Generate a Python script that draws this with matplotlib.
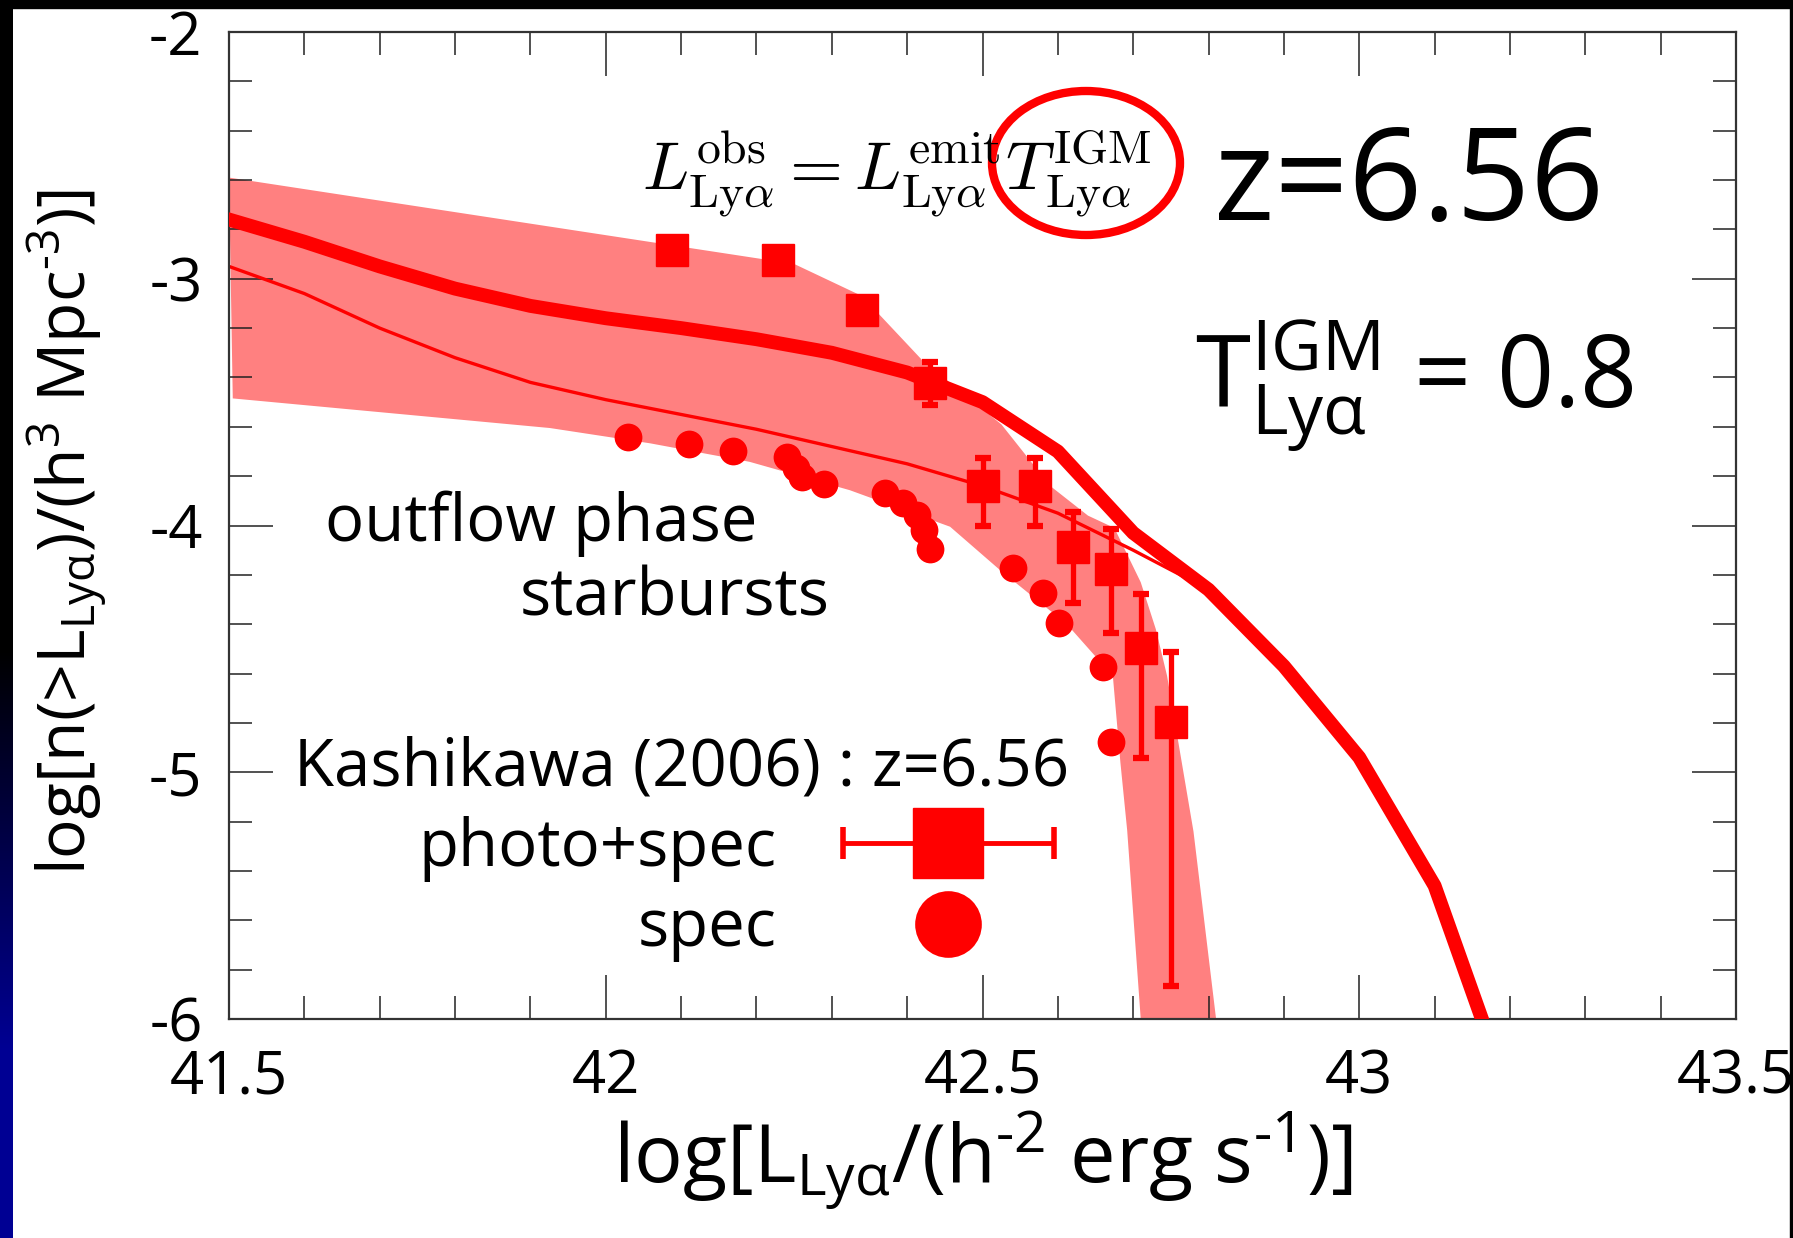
import numpy as np
import matplotlib
matplotlib.use('Agg')
import matplotlib.pyplot as plt
import matplotlib.ticker as mticker
from matplotlib.patches import Ellipse, Rectangle
from matplotlib.lines import Line2D
from matplotlib.container import ErrorbarContainer
from matplotlib.legend_handler import HandlerErrorbar

plt.rcParams['font.family'] = ['Open Sans', 'DejaVu Sans']
plt.rcParams['mathtext.fontset'] = 'custom'
plt.rcParams['mathtext.rm'] = 'Open Sans'
plt.rcParams['mathtext.it'] = 'Open Sans:italic'
plt.rcParams['mathtext.bf'] = 'Open Sans:bold'
plt.rcParams['axes.unicode_minus'] = False

# ---- model curves: cumulative LAE number density ----
logL_model = [41.5, 41.6, 41.7, 41.8, 41.9, 42.0, 42.1, 42.2, 42.3, 42.4,
              42.5, 42.6, 42.7, 42.8, 42.9, 43.0, 43.1, 43.2]
n_thick = [-2.76, -2.85, -2.95, -3.04, -3.11, -3.16, -3.20, -3.245, -3.30, -3.38,
           -3.50, -3.70, -4.03, -4.26, -4.57, -4.94, -5.46, -6.32]
logL_thin = [41.5, 41.6, 41.7, 41.8, 41.9, 42.0, 42.1, 42.2, 42.3, 42.4,
             42.5, 42.6, 42.7, 42.8]
n_thin = [-2.95, -3.06, -3.20, -3.32, -3.42, -3.49, -3.55, -3.61, -3.68, -3.75,
          -3.84, -3.95, -4.10, -4.26]

# shaded range of the model (outline, clockwise)
band_x = [41.5, 42.25, 42.34, 42.42, 42.525, 42.59, 42.64, 42.675, 42.71, 42.73,
          42.745, 42.78, 42.81, 42.71, 42.692, 42.683, 42.673, 42.612, 42.523,
          42.457, 42.324, 42.191, 42.059, 41.926, 41.505]
band_y = [-2.59, -2.94, -3.07, -3.33, -3.59, -3.84, -3.96, -4.01, -4.23, -4.42,
          -4.61, -5.24, -6.0, -6.0, -5.235, -4.96, -4.61, -4.40, -4.18,
          -4.005, -3.857, -3.742, -3.667, -3.605, -3.485]

# ---- Kashikawa (2006), z=6.56 ----
logL_ps = [42.088, 42.229, 42.340, 42.430, 42.500, 42.570, 42.620, 42.670, 42.710, 42.750]
n_ps = [-2.883, -2.924, -3.126, -3.424, -3.840, -3.840, -4.089, -4.178, -4.498, -4.798]
err_lo = [0.0, 0.0, 0.0, 0.088, 0.162, 0.162, 0.227, 0.259, 0.446, 1.068]
err_hi = [0.0, 0.0, 0.0, 0.088, 0.112, 0.112, 0.145, 0.162, 0.220, 0.286]

logL_sp = [42.030, 42.110, 42.169, 42.240, 42.253, 42.261, 42.290, 42.371, 42.395,
           42.413, 42.422, 42.430, 42.541, 42.580, 42.601, 42.660, 42.670]
n_sp = [-3.643, -3.670, -3.697, -3.721, -3.765, -3.805, -3.832, -3.870, -3.908,
        -3.958, -4.019, -4.097, -4.174, -4.273, -4.397, -4.575, -4.877]

W, H = 1793, 1238
fig = plt.figure(figsize=(W / 100, H / 100), dpi=100)
fig.patch.set_facecolor('white')

def fx(px):
    return px / W

def fy(py):
    return 1 - py / H

# slide background bits: black band on top, dark-to-blue strip on the left
fig.add_artist(Rectangle((0, fy(8)), 1, 8 / H, transform=fig.transFigure,
                         color='black', zorder=0))
fig.add_artist(Rectangle((fx(1790), 0), 3 / W, 1, transform=fig.transFigure,
                         color='black', zorder=0))
rows = np.arange(H)
blue = np.clip((rows - 650) / 400.0, 0, 1) * 0.58
grad = np.zeros((H, 1, 3))
grad[:, 0, 2] = blue
bg = fig.add_axes([0, 0, 13 / W, 1])
bg.imshow(grad, aspect='auto', interpolation='bilinear')
bg.axis('off')

ax = fig.add_axes([fx(229), 1 - 1019 / H, (1736 - 229) / W, (1019 - 32) / H])

ax.fill(band_x, band_y, color='#ff8080', lw=0, zorder=1)
ax.plot(logL_thin, n_thin, color='red', lw=2.4, zorder=2)
ax.plot(logL_model, n_thick, color='red', lw=10, zorder=3)
ax.errorbar(logL_ps, n_ps, yerr=[err_lo, err_hi], fmt='s', color='red', ms=23,
            elinewidth=3.8, capsize=5.6, capthick=4.5, zorder=4)
ax.plot(logL_sp, n_sp, 'o', color='red', ms=20, mew=0, zorder=4)

ax.set_xlim(41.5, 43.5)
ax.set_ylim(-6, -2)
ax.xaxis.set_major_locator(mticker.MultipleLocator(0.5))
ax.xaxis.set_minor_locator(mticker.MultipleLocator(0.1))
ax.yaxis.set_major_locator(mticker.MultipleLocator(1))
ax.yaxis.set_minor_locator(mticker.MultipleLocator(0.2))
ax.xaxis.set_major_formatter(mticker.FormatStrFormatter('%g'))
ax.yaxis.set_major_formatter(mticker.FormatStrFormatter('%g'))
ax.tick_params(which='both', direction='in', top=True, right=True,
               color='#222222', width=1.1, labelsize=43)
ax.tick_params(which='major', length=32)
ax.tick_params(which='minor', length=16.5)
ax.tick_params(axis='x', pad=20.5)
ax.tick_params(axis='y', pad=19)
for sp in ax.spines.values():
    sp.set_linewidth(1.6)
    sp.set_color('#333333')

ax.set_xlabel(r'log[L$_{\mathregular{Lyα}}$/(h$^{\text{-2}}$ erg s$^{\text{-1}}$)]',
              fontsize=58.5)
ax.set_ylabel(r'log[n(>L$_{\mathregular{Lyα}}$)/(h$^{\mathregular{3}}$ Mpc$^{\text{-3}}$)]',
              fontsize=47.5)
ax.xaxis.set_label_coords(0.5, -0.092)
ax.yaxis.set_label_coords(-0.0796, 0.493)

# annotations
fig.text(fx(642), fy(190),
         r'$L^{\rm obs}_{\rm Ly\alpha} = L^{\rm emit}_{\rm Ly\alpha} T^{\rm IGM}_{\rm Ly\alpha}$',
         fontsize=49, math_fontfamily='cm', ha='left', va='baseline')
fig.add_artist(Ellipse((fx(1086), fy(163)), 188 / W, 144 / H, transform=fig.transFigure,
                       fill=False, ec='red', lw=6))
fig.text(fx(1214), fy(220), 'z=6.56', fontsize=93, ha='left', va='baseline')
fig.text(fx(1195), fy(409), r'T$^{\mathregular{IGM}}_{\mathregular{Lyα}}$ = 0.8',
         fontsize=72, ha='left', va='baseline')
fig.text(fx(325), fy(541), 'outflow phase', fontsize=47, ha='left', va='baseline')
fig.text(fx(520), fy(615), 'starbursts', fontsize=47, ha='left', va='baseline')

# legend
ps_key = ax.errorbar([np.nan], [np.nan], xerr=[0.1], fmt='s', color='red', ms=50,
                     elinewidth=3.5, capsize=11.5, capthick=4)
sp_key = Line2D([], [], marker='o', ls='none', color='red', ms=48, mew=0)
ax.legend([ps_key, sp_key], ['photo+spec', 'spec'], title='Kashikawa (2006) : z=6.56',
          markerfirst=False, frameon=False, fontsize=47, title_fontsize=47,
          handler_map={ErrorbarContainer: HandlerErrorbar(xerr_size=1.615)},
          handlelength=3.7, handletextpad=0.78, labelspacing=0.225, borderpad=0,
          borderaxespad=0, alignment='right', loc='upper right',
          bbox_to_anchor=(fx(1069), fy(735)), bbox_transform=fig.transFigure)

fig.savefig('out.png', dpi=100)
